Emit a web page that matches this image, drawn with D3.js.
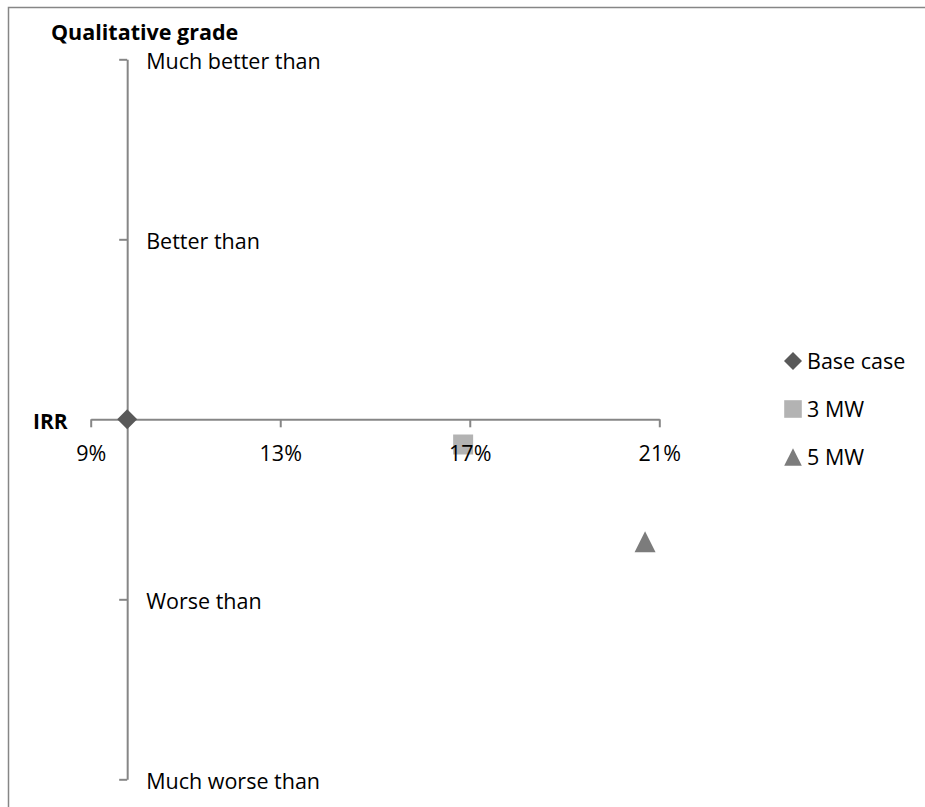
<!DOCTYPE html>
<html>
<head>
<meta charset="utf-8">
<script src="https://cdn.jsdelivr.net/npm/d3@7"></script>
<style>
  html, body { margin: 0; padding: 0; background: #fff; }
  svg { display: block; font-family: "Open Sans", sans-serif; }
</style>
</head>
<body>
<svg id="chart" width="925" height="807"></svg>
<script>
// Scenarios and their position: IRR (x) against a qualitative grade (y)
const seriesNames = ["Base case", "3 MW", "5 MW"];
const irrValues = [0.0977, 0.1686, 0.2070];
const gradeValues = [0, -0.14, -0.68];
const seriesColors = ["#595959", "#b3b3b3", "#7c7c7c"];
const seriesShapes = ["diamond", "square", "triangle"];

// Axis ticks
const irrTicks = [0.09, 0.13, 0.17, 0.21];
const gradeTicks = [2, 1, 0, -1, -2];
const gradeTickLabels = ["Much better than", "Better than", "", "Worse than", "Much worse than"];

const svg = d3.select("#chart");
const axisColor = "#868686";
const labelFont = 21.5;

// outer frame (only top and left edges fall within the page)
svg.append("rect")
  .attr("x", 8.5).attr("y", 7.5)
  .attr("width", 1200).attr("height", 1200)
  .attr("fill", "none").attr("stroke", axisColor).attr("stroke-width", 1.5);

const x = d3.scaleLinear().domain([0.09, 0.21]).range([90.7, 659.3]);
const y = d3.scaleLinear().domain([-2, 2]).range([779.3, 59.3]);

// vertical axis crosses at the base-case IRR
const xCross = x(irrValues[0]);

const xAxisGen = () => d3.axisBottom(x).tickValues(irrTicks)
  .tickSize(8).tickSizeOuter(0).tickPadding(18);
const yAxisGen = () => d3.axisLeft(y).tickValues(gradeTicks)
  .tickSize(8).tickSizeOuter(0);

// --- axis lines and tick marks (beneath the markers)
const xLines = svg.append("g")
  .attr("transform", `translate(0,${y(0)})`)
  .call(xAxisGen().tickFormat(""));
xLines.select(".domain").attr("stroke", axisColor).attr("stroke-width", 2);
xLines.selectAll(".tick line").attr("stroke", axisColor).attr("stroke-width", 2);

const yLines = svg.append("g")
  .attr("transform", `translate(${xCross},0)`)
  .call(yAxisGen().tickFormat(""));
yLines.select(".domain").attr("stroke", axisColor).attr("stroke-width", 2);
yLines.selectAll(".tick line").attr("stroke", axisColor).attr("stroke-width", 2)
  .filter(d => d === 0).remove();

// marker shapes centred on (0,0), s = half-size in px
function shapePath(shape, s) {
  if (shape === "diamond") return `M0,${-s}L${s},0L0,${s}L${-s},0Z`;
  if (shape === "square") return `M${-s},${-s}H${s}V${s}H${-s}Z`;
  return `M0,${-s}L${s},${s}L${-s},${s}Z`;
}

const points = seriesNames.map((name, i) => ({
  name, irr: irrValues[i], grade: gradeValues[i],
  color: seriesColors[i], shape: seriesShapes[i]
}));

// --- markers
svg.append("g").selectAll("path")
  .data(points)
  .join("path")
  .attr("transform", d => `translate(${x(d.irr)},${y(d.grade)})`)
  .attr("d", d => shapePath(d.shape, d.shape === "triangle" ? 10.5 : 10))
  .attr("fill", d => d.color);

// --- tick labels (on top of the markers)
const xLabels = svg.append("g")
  .attr("transform", `translate(0,${y(0)})`)
  .call(xAxisGen().tickFormat(d3.format(".0%")));
xLabels.select(".domain").remove();
xLabels.selectAll(".tick line").remove();
xLabels.selectAll(".tick text")
  .attr("fill", "#000").attr("font-size", labelFont).attr("font-family", "Open Sans, sans-serif");

const yLabels = svg.append("g")
  .attr("transform", `translate(${xCross},0)`)
  .call(yAxisGen().tickFormat((d, i) => gradeTickLabels[i]));
yLabels.select(".domain").remove();
yLabels.selectAll(".tick line").remove();
yLabels.selectAll(".tick text")
  .attr("x", 19).attr("dy", "0.42em").attr("text-anchor", "start")
  .attr("fill", "#000").attr("font-size", labelFont).attr("font-family", "Open Sans, sans-serif");

// axis titles
svg.append("text").attr("x", 51).attr("y", 40)
  .attr("font-size", 21.5).attr("font-weight", "bold").attr("fill", "#000")
  .text("Qualitative grade");
svg.append("text").attr("x", 33).attr("y", 429)
  .attr("font-size", 21).attr("font-weight", "bold").attr("fill", "#000")
  .text("IRR");

// legend
const legend = svg.append("g").attr("transform", "translate(793,361)");
const rows = legend.selectAll("g")
  .data(points)
  .join("g")
  .attr("transform", (d, i) => `translate(0,${i * 48})`);
rows.append("path")
  .attr("d", d => shapePath(d.shape, d.shape === "diamond" ? 9 : 8.8))
  .attr("fill", d => d.color);
rows.append("text")
  .attr("x", 14).attr("y", 8)
  .attr("font-size", labelFont).attr("fill", "#000")
  .text(d => d.name);
</script>
</body>
</html>
